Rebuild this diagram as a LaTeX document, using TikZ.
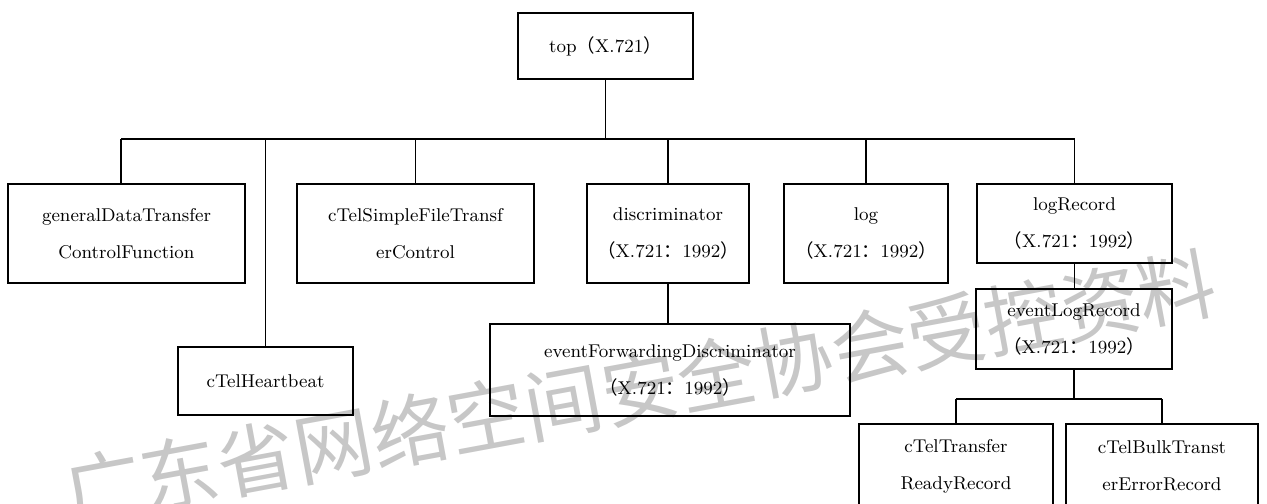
\documentclass[tikz,border=0pt]{standalone}
\usepackage{fontspec}
\newfontfamily\cjk{Noto Sans CJK SC}
\newcommand{\fw}[1]{{\cjk #1}}
\begin{document}
\begin{tikzpicture}[x=0.5pt,y=-0.5pt,
  box/.style={draw, line width=0.9pt, inner sep=0pt, align=center,
    font=\fontsize{9.25}{18.5}\selectfont},
  conn/.style={line width=0.7pt},
  wmark/.style={text=black!22, font=\cjk\fontsize{39}{39}\selectfont}]
\useasboundingbox (0,0) rectangle (1267,503);
% watermark
\node[wmark, rotate=10.5] (wm) at (640,388) {广东省网络空间安全协会受控资料};
% boxes
\node[box, minimum width=87.5pt, minimum height=33pt] (top) at (605.5,46) {top\fw{（}X.721\fw{）}};
\node[box, minimum width=118.5pt, minimum height=49.5pt] (gdt) at (126.5,233.5) {generalDataTransfer\\ControlFunction};
\node[box, minimum width=87.5pt, minimum height=34pt] (hb) at (265.5,381) {cTelHeartbeat};
\node[box, minimum width=118.5pt, minimum height=49.5pt] (sft) at (415.5,233.5) {cTelSimpleFileTransf\\erControl};
\node[box, minimum width=81pt, minimum height=49.5pt] (disc) at (668,233.5) {discriminator\\\fw{（}X.721\fw{：}1992\fw{）}};
\node[box, minimum width=82pt, minimum height=49.5pt] (log) at (866,233.5) {log\\\fw{（}X.721\fw{：}1992\fw{）}};
\node[box, minimum width=97.5pt, minimum height=39.5pt] (lr) at (1074.5,223.5) {logRecord\\\fw{（}X.721\fw{：}1992\fw{）}};
\node[box, minimum width=180pt, minimum height=46pt] (efd) at (670,370) {eventForwardingDiscriminator\\\fw{（}X.721\fw{：}1992\fw{）}};
\node[box, minimum width=98pt, minimum height=40pt] (elr) at (1074,329) {eventLogRecord\\\fw{（}X.721\fw{：}1992\fw{）}};
\node[box, minimum width=97pt, minimum height=42pt] (tr) at (956,466) {cTelTransfer\\ReadyRecord};
\node[box, minimum width=96pt, minimum height=42pt] (bte) at (1162,466) {cTelBulkTranst\\erErrorRecord};
% connectors
\coordinate (bus) at (606,139);
\coordinate (bus2) at (1074,399);
\coordinate (gtop) at (121,184);
\draw[conn] (top.south) -- (top.south |- bus);
\draw[conn] (gtop |- bus) -- (lr.north |- bus);
\draw[conn] (gtop) -- (gtop |- bus);
\draw[conn] (hb.north) -- (hb.north |- bus);
\draw[conn] (sft.north) -- (sft.north |- bus);
\draw[conn] (disc.north) -- (disc.north |- bus);
\draw[conn] (log.north) -- (log.north |- bus);
\draw[conn] (lr.north) -- (lr.north |- bus);
\draw[conn] (disc.south) -- (disc.south |- efd.north);
\draw[conn] (lr.south) -- (lr.south |- elr.north);
\draw[conn] (elr.south) -- (elr.south |- bus2);
\draw[conn] (tr.north |- bus2) -- (bte.north |- bus2);
\draw[conn] (tr.north) -- (tr.north |- bus2);
\draw[conn] (bte.north) -- (bte.north |- bus2);
\end{tikzpicture}
\end{document}
